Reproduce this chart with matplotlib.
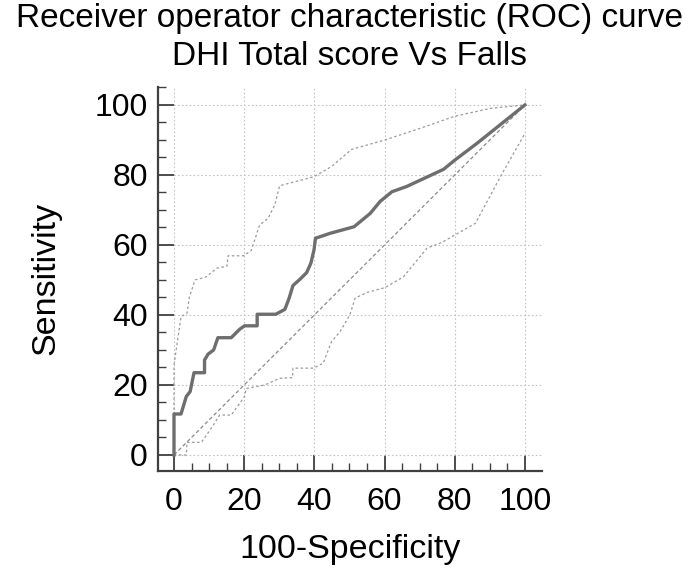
import matplotlib
matplotlib.use("Agg")
import matplotlib.pyplot as plt
from matplotlib.ticker import MultipleLocator

plt.rcParams['font.family'] = ['Liberation Sans', 'DejaVu Sans']

# ROC curve (100-Specificity, Sensitivity)
roc_x = [0, 0, 2.0, 3.5, 4.6, 5.7, 8.7, 8.7, 9.7, 11.3, 12.5, 16.3, 18.7, 20.1, 23.7, 23.7,
         29.0, 31.6, 32.8, 33.9, 35.9, 37.8, 39.0, 39.9, 40.3, 44.4, 51.3, 55.9, 58.7,
         62.1, 66.3, 76.8, 80.1, 86.3, 100]
roc_y = [0, 11.7, 11.7, 16.7, 18.1, 23.5, 23.5, 27.1, 28.8, 30.0, 33.5, 33.5, 35.9, 36.9, 36.9, 40.2,
         40.2, 41.6, 44.8, 48.4, 50.2, 52.1, 54.8, 58.6, 61.9, 63.3, 65.2, 69.0, 72.4,
         75.2, 76.7, 81.6, 84.3, 89.0, 100]

# Upper 95% confidence bound
up_x = [0, 0, 2.0, 3.7, 4.4, 6.0, 9.0, 12.3, 15.1, 15.4, 19.8, 22.0, 24.4, 26.8, 28.7,
        30.1, 39.9, 44.9, 50.6, 60.1, 70.1, 80.1, 90.1, 100]
up_y = [0, 25.7, 39.5, 40.5, 45.2, 50.0, 50.8, 53.4, 53.9, 56.9, 56.9, 58.4, 65.7, 67.6, 71.4,
        76.9, 79.5, 82.4, 87.3, 90.0, 93.3, 96.8, 99.0, 100]

# Lower 95% confidence bound
lo_x = [0, 3.5, 3.7, 7.8, 10.6, 13.0, 16.3, 20.1, 20.6, 25.9, 30.1, 33.8, 33.9, 39.7,
        42.5, 44.9, 47.3, 50.1, 51.6, 54.9, 60.1, 65.4, 72.1, 76.3, 85.9, 93.0, 100]
lo_y = [0, 0, 3.6, 3.6, 7.6, 11.4, 11.4, 16.7, 19.0, 20.0, 21.9, 22.1, 24.8, 24.8,
        26.2, 32.4, 35.2, 40.0, 44.8, 46.4, 47.8, 50.9, 59.1, 60.7, 66.2, 79.5, 91.9]

diag = [0, 100]
ticks = [0, 20, 40, 60, 80, 100]

fig = plt.figure(figsize=(7.0, 5.77), dpi=100)
ax = fig.add_axes([0.225, 0.1842, 0.549, 0.6655])

ax.plot(diag, diag, color='#8a8a8a', lw=0.9, ls=(0, (3, 2)), zorder=2)
ax.plot(up_x, up_y, color='#9a9a9a', lw=0.9, ls=(0, (2, 2)), zorder=2)
ax.plot(lo_x, lo_y, color='#9a9a9a', lw=0.9, ls=(0, (2, 2)), zorder=2)
ax.plot(roc_x, roc_y, color='#6e6e6e', lw=2.4, zorder=3, solid_joinstyle='round')

ax.set_xlim(-4.7, 104.8)
ax.set_ylim(-4.5, 105.2)
ax.set_xticks(ticks)
ax.set_yticks(ticks)
ax.xaxis.set_minor_locator(MultipleLocator(5))
ax.yaxis.set_minor_locator(MultipleLocator(5))
ax.tick_params(which='major', direction='in', length=11.8, width=1.3, color='#404040',
               labelsize=23)
ax.tick_params(which='minor', direction='in', length=5.8, width=1.0, color='#404040')
ax.tick_params(axis='x', which='major', pad=12)
ax.tick_params(axis='y', which='major', pad=7)

for s in ['top', 'right']:
    ax.spines[s].set_visible(False)
for s in ['left', 'bottom']:
    ax.spines[s].set_color('#404040')
    ax.spines[s].set_linewidth(1.6)

ax.grid(True, which='major', color='#c4c4c4', ls=(0, (1.5, 2)), lw=0.8)
ax.set_axisbelow(True)

ax.set_xlabel('100-Specificity', fontsize=24.5, labelpad=12)
ax.set_ylabel('Sensitivity', fontsize=24.5, labelpad=24)
fig.text(0.5, 0.995, 'Receiver operator characteristic (ROC) curve\nDHI Total score Vs Falls',
         ha='center', va='top', fontsize=24, linespacing=1.3)

fig.savefig('out.png', dpi=100, facecolor='white')
